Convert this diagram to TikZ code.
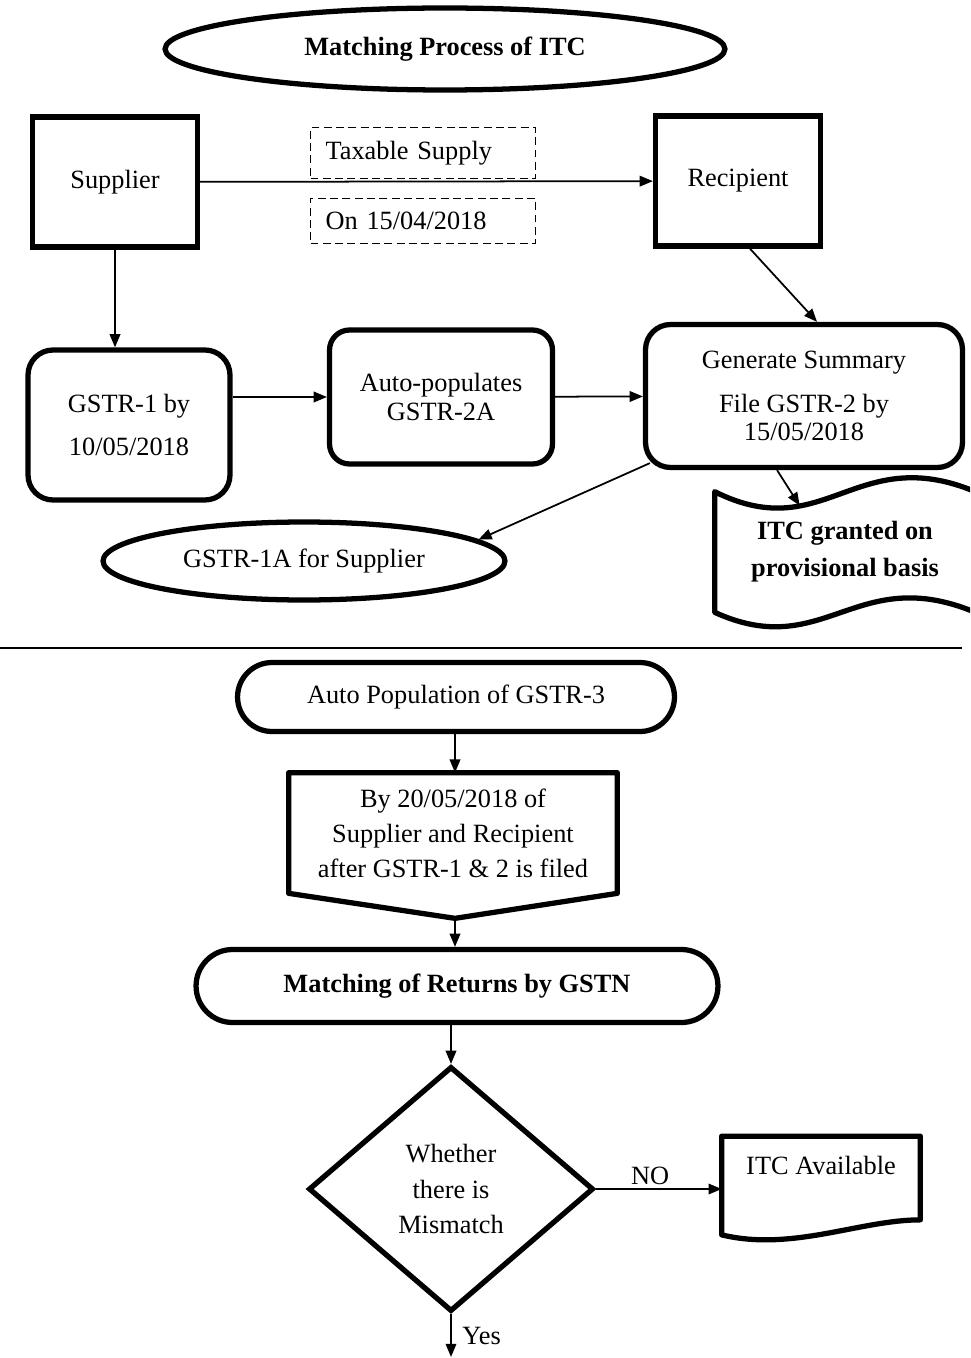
\documentclass[tikz,border=0pt]{standalone}
\usepackage{fontspec}
\setmainfont{Liberation Serif}
\usepackage{tikz}
\usetikzlibrary{shapes.geometric, shapes.misc, arrows.meta, positioning, calc}
\newcommand{\diagfont}{\fontsize{15}{20}\selectfont}
\tikzset{
    procbox/.style={
        rectangle,
        draw=black,
        line width=3pt,
        text centered,
        font=\diagfont
    },
    roundbox/.style={
        procbox,
        rounded corners=0.5cm,
        align=center
    },
    dashbox/.style={
        rectangle,
        draw=black,
        line width=1.1pt,
        dash pattern=on 4.5pt off 2.5pt,
        align=left,
        text width=3.9cm,
        inner xsep=0.3cm,
        minimum width=4.5cm,
        font=\diagfont
    },
    oval/.style={
        ellipse,
        draw=black,
        line width=3pt,
        inner sep=0pt,
        font=\diagfont
    },
    pill/.style={
        rounded rectangle,
        draw=black,
        line width=3pt,
        inner sep=0pt,
        font=\diagfont
    },
    decision/.style={
        diamond,
        draw=black,
        line width=3pt,
        inner sep=0pt,
        align=center,
        font=\diagfont
    },
    textonly/.style={
        rectangle,
        inner sep=0pt,
        align=center,
        font=\diagfont
    },
    outline/.style={
        draw=black,
        line width=3pt,
        line join=round
    },
    connection/.style={
        draw=black,
        line width=1pt,
        -{Triangle[length=7.5pt,width=6pt]}
    },
    edgelabel/.style={
        font=\diagfont,
        inner sep=2pt
    }
}
\begin{document}
\begin{tikzpicture}[x=0.02cm, y=-0.02cm]
\useasboundingbox (0,0) rectangle (970,1358);
\clip (0,0) rectangle (970,1358);

% Heading
\node[oval, minimum width=11.2cm, minimum height=1.64cm, font=\diagfont\bfseries] (heading) at (445,49) {Matching Process of ITC};

% Supplier to recipient
\node[procbox, minimum width=3.3cm, minimum height=2.6cm] (supplier) at (115,182) {Supplier};
\node[procbox, minimum width=3.3cm, minimum height=2.6cm] (recipient) at (738,181) {Recipient};
\node[dashbox, minimum height=1.02cm] (taxable) at (423,153) {Taxable Supply};
\node[dashbox, minimum height=0.9cm] (ondate) at (423,221) {On 15/04/2018};
\draw[connection] (supplier) -- (recipient);

% Returns
\node[roundbox, minimum width=4.04cm, minimum height=3cm] (gstrone) at (129,425) {GSTR-1 by\\[4pt]10/05/2018};
\node[roundbox, rounded corners=0.4cm, minimum width=4.46cm, minimum height=2.68cm] (autopop) at (441,397) {Auto-populates\\[-4pt]GSTR-2A};
\node[roundbox, minimum width=6.34cm, minimum height=2.86cm] (summary) at (804,396) {Generate Summary\\[5pt]File GSTR-2 by\\[-4pt]15/05/2018};
\node[oval, minimum width=8.04cm, minimum height=1.56cm] (gstronea) at (304,561) {GSTR-1A for Supplier};

% ITC on provisional basis
\node[textonly, minimum width=5.2cm, minimum height=2.4cm, font=\diagfont\bfseries] (provisional) at (845,552) {ITC granted on\\[1pt]provisional basis};
\draw[outline] (provisional.north west) .. controls +(110,55) and +(-120,-50) .. (provisional.north east)
    -- (provisional.south east) .. controls +(-120,-50) and +(110,50) .. (provisional.south west) -- cycle;

\draw[connection] (supplier.south) -- (supplier.south |- gstrone.north);
\draw[connection] (gstrone.east |- autopop.west) -- (autopop.west);
\draw[connection] (autopop) -- (summary);
\draw[connection] (recipient.-80) -- (summary.80);
\draw[connection] ($(summary.south west)+(7,-7)$) -- (gstronea.7);
\draw[connection] (summary.-110) -- ($(provisional.north west)+(85,14)$);

% Separator
\draw[line width=1pt] (0,648) -- (962,648);

% GSTR-3 and matching
\node[pill, minimum width=8.74cm, minimum height=1.38cm] (gstrthree) at (456,697) {Auto Population of GSTR-3};
\node[textonly, minimum width=6.56cm, minimum height=2.4cm] (byfile) at (453,833) {By 20/05/2018 of\\Supplier and Recipient\\after GSTR-1 \& 2 is filed};
\coordinate (bytip) at ($(byfile.south)+(2,25)$);
\draw[outline] (byfile.north west) -- (byfile.north east) -- (byfile.south east) -- (bytip) -- (byfile.south west) -- cycle;
\node[pill, minimum width=10.44cm, minimum height=1.46cm, font=\diagfont\bfseries] (matching) at (457,986) {Matching of Returns by GSTN};
\node[decision, minimum width=5.7cm, minimum height=4.9cm] (mismatch) at (451,1189) {Whether\\there is\\Mismatch};

% ITC available
\node[textonly, minimum width=3.96cm, text height=0.76cm, text depth=0.9cm] (available) at (821,1178) {ITC Available};
\draw[outline] (available.north west) -- (available.north east) -- (available.south east)
    .. controls +(-60,0) and +(70,17) .. ($(available.south west)+(0,15)$) -- cycle;
\coordinate (yesend) at (451,1357);

\draw[connection] (gstrthree.south -| bytip) -- (byfile.north -| bytip);
\draw[connection] (bytip) -- (bytip |- matching.north);
\draw[connection] (mismatch.north |- matching.south) -- (mismatch.north);
\draw[connection] (mismatch.east) -- node[edgelabel, above, pos=0.43] {NO} (mismatch.east -| available.west);
\draw[connection] (mismatch.south) -- node[edgelabel, right=4pt, pos=0.5] {Yes} (yesend);

\end{tikzpicture}
\end{document}
